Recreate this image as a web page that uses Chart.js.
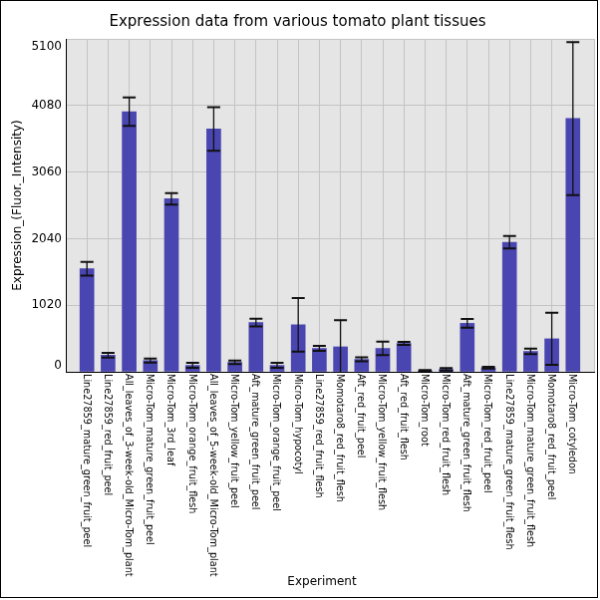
<!DOCTYPE html>
<html>
<head>
<meta charset="utf-8">
<script src="https://cdn.jsdelivr.net/npm/chart.js@4"></script>
<style>
  html, body { margin: 0; padding: 0; background: #fff; }
  canvas { display: block; border: 1px solid #000; }
</style>
</head>
<body>
<canvas id="c" width="598" height="598"></canvas>
<script>
const categories = [
  "Line27859_mature_green_fruit_peel",
  "Line27859_red_fruit_peel",
  "All_leaves_of_3-week-old_Micro-Tom_plant",
  "Micro-Tom_mature_green_fruit_peel",
  "Micro-Tom_3rd_leaf",
  "Micro-Tom_orange_fruit_flesh",
  "All_leaves_of_5-week-old_Micro-Tom_plant",
  "Micro-Tom_yellow_fruit_peel",
  "Aft_mature_green_fruit_peel",
  "Micro-Tom_orange_fruit_peel",
  "Micro-Tom_hypocotyl",
  "Line27859_red_fruit_flesh",
  "Momotaro8_red_fruit_flesh",
  "Aft_red_fruit_peel",
  "Micro-Tom_yellow_fruit_flesh",
  "Aft_red_fruit_flesh",
  "Micro-Tom_root",
  "Micro-Tom_red_fruit_flesh",
  "Aft_mature_green_fruit_flesh",
  "Micro-Tom_red_fruit_peel",
  "Line27859_mature_green_fruit_flesh",
  "Micro-Tom_mature_green_fruit_flesh",
  "Momotaro8_red_fruit_peel",
  "Micro-Tom_cotyledon"
];
const expression = [1580, 255, 3985, 172, 2650, 98, 3720, 145, 755, 98, 720,
                    358, 382, 190, 358, 435, 18, 38, 742, 63, 1985, 312, 505, 3880];
const errors = [105, 36, 218, 30, 88, 38, 335, 28, 60, 38, 410,
                38, 410, 30, 102, 24, 8, 18, 66, 14, 95, 42, 398, 1172];
const yTicks = [0, 1020, 2040, 3060, 4080, 5100];

const title = "Expression data from various tomato plant tissues";
const yTitle = "Expression_(Fluor._Intensity)";
const xTitle = "Experiment";
const FONT = "'DejaVu Sans', sans-serif";

const barData = expression.map((v, i) => ({ x: i, y: v }));

const bgPlugin = {
  id: 'plotBg',
  beforeDraw(chart) {
    const { ctx, chartArea: a } = chart;
    ctx.save();
    ctx.fillStyle = '#e5e5e5';
    ctx.fillRect(a.left, a.top, a.right - a.left, a.bottom - a.top);
    ctx.restore();
  }
};

const errPlugin = {
  id: 'errBars',
  afterDatasetsDraw(chart) {
    const { ctx, chartArea: a } = chart;
    const xs = chart.scales.x, ys = chart.scales.y;
    ctx.save();
    ctx.beginPath();
    ctx.rect(a.left, a.top - 2, a.right - a.left, a.bottom - a.top + 2);
    ctx.clip();
    ctx.strokeStyle = '#111';
    expression.forEach((v, i) => {
      const x = xs.getPixelForValue(i);
      const yt = ys.getPixelForValue(v + errors[i]);
      const yb = ys.getPixelForValue(v - errors[i]);
      ctx.lineWidth = 1.3;
      ctx.beginPath();
      ctx.moveTo(x, yt); ctx.lineTo(x, yb); ctx.stroke();
      ctx.lineWidth = 2;
      ctx.beginPath();
      ctx.moveTo(x - 6.5, yt); ctx.lineTo(x + 6.5, yt);
      ctx.moveTo(x - 6.5, yb); ctx.lineTo(x + 6.5, yb);
      ctx.stroke();
    });
    ctx.restore();
  }
};

const labelPlugin = {
  id: 'labels',
  afterDraw(chart) {
    const { ctx, chartArea: a } = chart;
    const xs = chart.scales.x, ys = chart.scales.y;
    ctx.save();
    ctx.fillStyle = '#000';
    ctx.font = "9.7px " + FONT;
    ctx.textAlign = 'left';
    ctx.textBaseline = 'middle';
    categories.forEach((c, i) => {
      const x = xs.getPixelForValue(i);
      ctx.save();
      ctx.translate(x - 1, a.bottom + 2);
      ctx.rotate(Math.PI / 2);
      ctx.fillText(c, 0, 0);
      ctx.restore();
    });
    ctx.font = "12px " + FONT;
    ctx.textAlign = 'right';
    ctx.textBaseline = 'middle';
    yTicks.forEach(t => {
      let y = ys.getPixelForValue(t);
      y = Math.min(Math.max(y, a.top + 8), a.bottom - 6);
      ctx.fillText(String(t), a.left - 4, y);
    });
    ctx.textAlign = 'center';
    ctx.textBaseline = 'middle';
    ctx.fillText(xTitle, (a.left + a.right) / 2 - 8, 583);
    ctx.restore();
  }
};

new Chart(document.getElementById('c'), {
  type: 'bar',
  data: {
    datasets: [{
      data: barData,
      backgroundColor: '#4a46b1',
      borderWidth: 0,
      barThickness: 14
    }]
  },
  options: {
    responsive: false,
    devicePixelRatio: 1,
    animation: false,
    layout: { padding: { left: 0, right: 3, top: 0, bottom: 0 } },
    plugins: {
      legend: { display: false },
      tooltip: { enabled: false },
      title: {
        display: true,
        text: title,
        color: '#000',
        font: { family: FONT, size: 15, weight: 'normal' },
        padding: { top: 12, bottom: 8 }
      }
    },
    scales: {
      x: {
        type: 'linear',
        offset: false,
        min: -1,
        max: 24,
        ticks: { display: false, stepSize: 1 },
        grid: { color: '#c4c4c4', lineWidth: 1, drawTicks: false, offset: false },
        border: { display: true, color: '#000', width: 1 },
        afterFit(scale) { scale.height = 226; }
      },
      y: {
        min: 0,
        max: 5100,
        afterBuildTicks(scale) { scale.ticks = yTicks.map(v => ({ value: v })); },
        ticks: { display: false },
        grid: { color: '#c4c4c4', lineWidth: 1, drawTicks: false },
        border: { display: true, color: '#000', width: 1 },
        title: {
          display: true,
          text: yTitle,
          color: '#000',
          font: { family: FONT, size: 12 },
          padding: { top: 10, bottom: 4 }
        },
        afterFit(scale) { scale.width = 65; }
      }
    }
  },
  plugins: [bgPlugin, errPlugin, labelPlugin]
});
</script>
</body>
</html>
